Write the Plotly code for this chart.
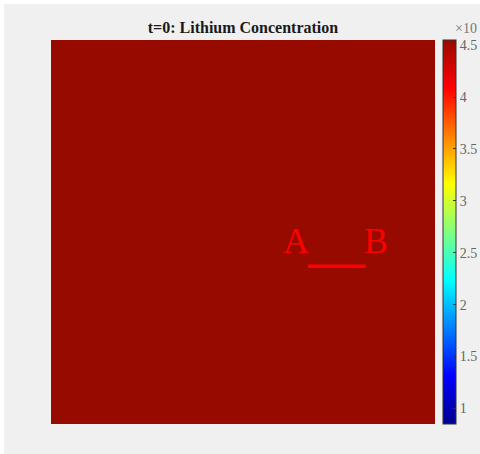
import plotly.graph_objects as go

# Initial lithium concentration field (units of 1e4), uniform at t=0
n_cells = 20
c_initial = 4.55
concentration = [[c_initial] * n_cells for _ in range(n_cells)]

# Colour limits and colourbar ticks
c_min, c_max = 0.85, 4.55
cbar_ticks = [1, 1.5, 2, 2.5, 3, 3.5, 4, 4.5]
cbar_ticktext = ["1", "1.5", "2", "2.5", "3", "3.5", "4", "4.5"]

# Probe segment A-B in normalised domain coordinates
seg_x = [0.669, 0.820]
seg_y = [0.411, 0.411]
label_text = ["A", "B"]
label_x = [0.638, 0.846]
label_y = [0.477, 0.477]

# MATLAB-style jet colormap
jet = [
    [0.0, "#00008f"],
    [0.125, "#0000ff"],
    [0.375, "#00ffff"],
    [0.625, "#ffff00"],
    [0.875, "#ff0000"],
    [1.0, "#960a00"],
]

W, H = 480, 454
L, R, T, B = 51, 45, 40, 30
pw, ph = W - L - R, H - T - B

fig = go.Figure()
fig.add_trace(go.Heatmap(
    z=concentration,
    x0=0.5 / n_cells, dx=1.0 / n_cells,
    y0=0.5 / n_cells, dy=1.0 / n_cells,
    zmin=c_min, zmax=c_max,
    colorscale=jet,
    showscale=True,
    hoverinfo="skip",
    colorbar=dict(
        x=(443 - L) / pw, xanchor="left",
        y=0.5, yanchor="middle",
        len=1.0, lenmode="fraction",
        thickness=13, thicknessmode="pixels",
        xpad=0, ypad=0,
        outlinewidth=1, outlinecolor="#333333",
        tickmode="array", tickvals=cbar_ticks, ticktext=cbar_ticktext,
        ticks="inside", ticklen=3, tickcolor="#333333",
        tickfont=dict(family="Liberation Serif", size=14, color="#666666"),
    ),
))

fig.add_trace(go.Scatter(
    x=seg_x, y=seg_y, mode="lines",
    line=dict(color="#ff0000", width=3.5),
    hoverinfo="skip", showlegend=False,
))

for t, lx, ly in zip(label_text, label_x, label_y):
    fig.add_annotation(
        x=lx, y=ly, xref="x", yref="y", text=t, showarrow=False,
        font=dict(family="Liberation Serif", size=36, color="#ff0000"),
        xanchor="center", yanchor="middle",
    )

# Colourbar multiplier
fig.add_annotation(
    x=(453 - L) / pw, y=(H - B - 28) / ph, xref="paper", yref="paper",
    text="×10", showarrow=False, xanchor="left", yanchor="middle",
    font=dict(family="Liberation Serif", size=14, color="#777777"),
)

# Figure background panel
fig.add_shape(
    type="rect", xref="paper", yref="paper",
    x0=(4 - L) / pw, x1=(W - L) / pw,
    y0=(H - B - H) / ph, y1=(H - B - 4) / ph,
    fillcolor="#f0f0f0", line=dict(width=0), layer="below",
)

fig.update_layout(
    width=W, height=H,
    margin=dict(l=L, r=R, t=T, b=B, autoexpand=False),
    paper_bgcolor="#ffffff",
    plot_bgcolor="#f0f0f0",
    showlegend=False,
    title=dict(
        text="<b>t=0: Lithium Concentration</b>",
        x=(L + pw / 2) / W, xanchor="center", xref="container",
        y=1 - 27 / H, yanchor="middle", yref="container",
        font=dict(family="Liberation Serif", size=16, color="#1a1a1a"),
    ),
    xaxis=dict(visible=False, range=[0, 1], fixedrange=True),
    yaxis=dict(visible=False, range=[0, 1], fixedrange=True),
)

fig.write_html("out.html")
